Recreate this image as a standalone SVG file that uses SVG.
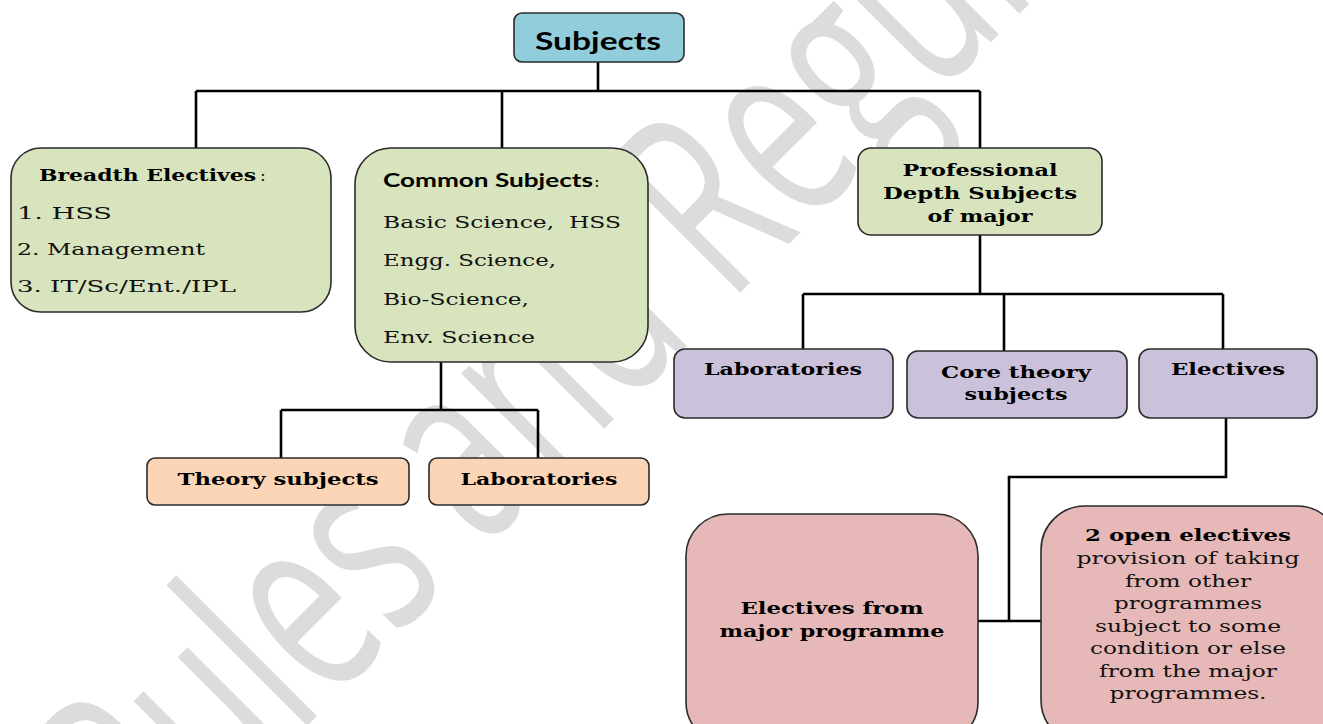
<svg xmlns="http://www.w3.org/2000/svg" width="1323" height="724" viewBox="0 0 1323 724">
<style>
.box{stroke:#2b2b2b;stroke-width:1.6}
.blue{fill:#92cddc}
.green{fill:#d7e4bd}
.orange{fill:#fbd5b5}
.purple{fill:#ccc1da}
.pink{fill:#e6b9b8}
.sans{font-family:Lato,"Open Sans","Liberation Sans",sans-serif;font-weight:bold;fill:#000}
.sb{font-family:"DejaVu Serif","Liberation Serif",serif;font-weight:bold;font-size:17.5px;fill:#000}
.sr{font-family:"DejaVu Serif","Liberation Serif",serif;font-size:17px;fill:#111}
.c{text-anchor:middle}
.wire{fill:none;stroke:#000;stroke-width:2.6}
.wm{font-family:"Open Sans","Liberation Sans",sans-serif;font-size:200px;fill:#dcdcdc}
</style>
<rect width="1323" height="724" fill="#fff"/>
<text class="wm" transform="matrix(0.601,-0.601,0.926,0.926,149,884)">Rules and Regulations</text>

<g id="connectors">
<path class="wire" d="M598,62V91M196,91H980M196,91V148M502,91V148M980,91V148"/>
<path class="wire" d="M441,362V410M281,410H538M281,410V458M538,410V458"/>
<path class="wire" d="M980,235V294M803,294H1223M803,294V349M1004,294V351M1223,294V349"/>
<path class="wire" d="M1226,418V477H1009V621M978,621H1041"/>
</g>

<g id="node-subjects">
<rect class="box blue" x="514" y="13" width="170" height="49" rx="8"/>
<text class="sans c" x="598" y="50" font-size="25" textLength="126" lengthAdjust="spacingAndGlyphs">Subjects</text>
</g>

<g id="node-breadth">
<rect class="box green" x="11" y="148" width="320" height="164" rx="30"/>
<text class="sb" x="39" y="181" textLength="217" lengthAdjust="spacingAndGlyphs">Breadth Electives</text>
<text class="sr" x="260" y="181">:</text>
<text class="sr" x="17" y="219" textLength="95" lengthAdjust="spacingAndGlyphs">1. HSS</text>
<text class="sr" x="17" y="255" textLength="188" lengthAdjust="spacingAndGlyphs">2. Management</text>
<text class="sr" x="17" y="292" textLength="219" lengthAdjust="spacingAndGlyphs">3. IT/Sc/Ent./IPL</text>
</g>

<g id="node-common">
<rect class="box green" x="355" y="148" width="293" height="214" rx="36"/>
<text class="sans" x="383" y="187" font-size="19.5" textLength="210" lengthAdjust="spacingAndGlyphs">Common Subjects</text>
<text class="sr" x="594" y="187" font-size="19">:</text>
<text class="sr" x="383" y="228" font-size="19" textLength="238" lengthAdjust="spacingAndGlyphs" xml:space="preserve">Basic Science,  HSS</text>
<text class="sr" x="383" y="266" font-size="19" textLength="173" lengthAdjust="spacingAndGlyphs">Engg. Science,</text>
<text class="sr" x="383" y="305" font-size="19" textLength="146" lengthAdjust="spacingAndGlyphs">Bio-Science,</text>
<text class="sr" x="383" y="343" font-size="19" textLength="152" lengthAdjust="spacingAndGlyphs">Env. Science</text>
</g>

<g id="node-theory">
<rect class="box orange" x="147" y="458" width="262" height="47" rx="8"/>
<text class="sb c" x="278" y="485" textLength="201" lengthAdjust="spacingAndGlyphs">Theory subjects</text>
</g>

<g id="node-labs-common">
<rect class="box orange" x="429" y="458" width="220" height="47" rx="8"/>
<text class="sb c" x="539" y="485" textLength="157" lengthAdjust="spacingAndGlyphs">Laboratories</text>
</g>

<g id="node-professional">
<rect class="box green" x="858" y="148" width="244" height="87" rx="13"/>
<text class="sb c" x="980" y="176" textLength="155" lengthAdjust="spacingAndGlyphs">Professional</text>
<text class="sb c" x="980" y="199" textLength="194" lengthAdjust="spacingAndGlyphs">Depth Subjects</text>
<text class="sb c" x="980" y="222" textLength="105" lengthAdjust="spacingAndGlyphs">of major</text>
</g>

<g id="node-labs-prof">
<rect class="box purple" x="674" y="349" width="219" height="69" rx="11"/>
<text class="sb c" x="783" y="375" textLength="158" lengthAdjust="spacingAndGlyphs">Laboratories</text>
</g>

<g id="node-core">
<rect class="box purple" x="907" y="351" width="220" height="67" rx="11"/>
<text class="sb c" x="1016" y="378" textLength="150" lengthAdjust="spacingAndGlyphs">Core theory</text>
<text class="sb c" x="1016" y="400" textLength="103" lengthAdjust="spacingAndGlyphs">subjects</text>
</g>

<g id="node-electives">
<rect class="box purple" x="1139" y="349" width="178" height="69" rx="11"/>
<text class="sb c" x="1228" y="375" textLength="114" lengthAdjust="spacingAndGlyphs">Electives</text>
</g>

<g id="node-major-electives">
<rect class="box pink" x="686" y="514" width="292" height="230" rx="42"/>
<text class="sb c" x="832" y="614" textLength="183" lengthAdjust="spacingAndGlyphs">Electives from</text>
<text class="sb c" x="832" y="637" textLength="225" lengthAdjust="spacingAndGlyphs">major programme</text>
</g>

<g id="node-open-electives">
<rect class="box pink" x="1041" y="506" width="300" height="238" rx="44"/>
<text class="sb c" x="1188" y="541" textLength="206" lengthAdjust="spacingAndGlyphs">2 open electives</text>
<text class="sr c" x="1188" y="564" textLength="223" lengthAdjust="spacingAndGlyphs">provision of taking</text>
<text class="sr c" x="1188" y="587" textLength="126" lengthAdjust="spacingAndGlyphs">from other</text>
<text class="sr c" x="1188" y="609" textLength="148" lengthAdjust="spacingAndGlyphs">programmes</text>
<text class="sr c" x="1188" y="632" textLength="186" lengthAdjust="spacingAndGlyphs">subject to some</text>
<text class="sr c" x="1188" y="654" textLength="196" lengthAdjust="spacingAndGlyphs">condition or else</text>
<text class="sr c" x="1188" y="677" textLength="178" lengthAdjust="spacingAndGlyphs">from the major</text>
<text class="sr c" x="1188" y="699" textLength="157" lengthAdjust="spacingAndGlyphs">programmes.</text>
</g>
</svg>
